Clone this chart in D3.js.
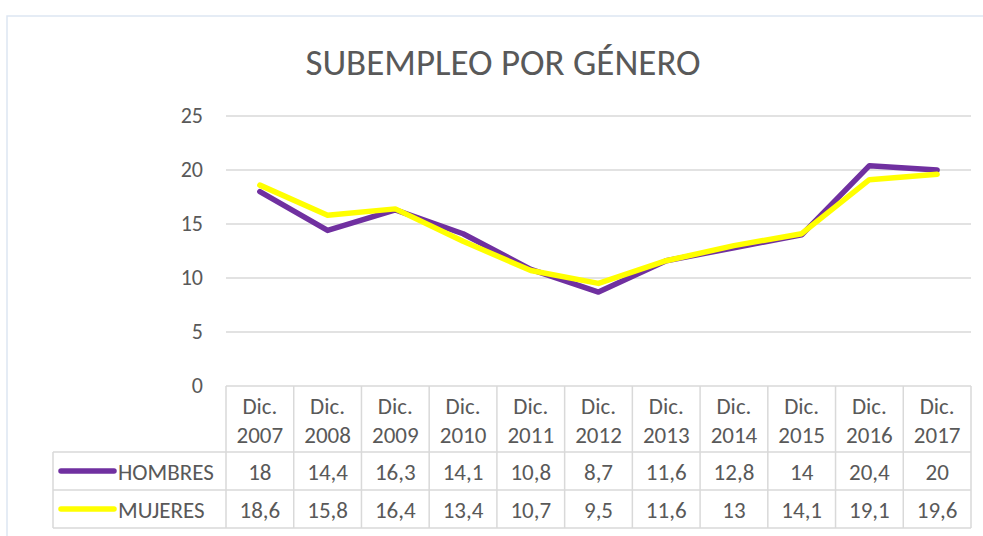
<!DOCTYPE html>
<html>
<head>
<meta charset="utf-8">
<script src="https://cdn.jsdelivr.net/npm/d3@7"></script>
<style>
  body { margin: 0; background: #fff; }
  text { font-family: Carlito, Calibri, 'Open Sans', sans-serif; fill: #595959; }
</style>
</head>
<body>
<svg id="chart" width="983" height="536"></svg>
<script>
var years = ['2007', '2008', '2009', '2010', '2011', '2012', '2013', '2014', '2015', '2016', '2017'];
var hombres = [18, 14.4, 16.3, 14.1, 10.8, 8.7, 11.6, 12.8, 14, 20.4, 20];
var mujeres = [18.6, 15.8, 16.4, 13.4, 10.7, 9.5, 11.6, 13, 14.1, 19.1, 19.6];
var yTicks = [0, 5, 10, 15, 20, 25];

var series = [
  {name: 'HOMBRES', values: hombres, color: '#7030a0'},
  {name: 'MUJERES', values: mujeres, color: '#ffff00'}
];

var svg = d3.select('#chart');
var grid = '#d9d9d9';

var plot = {left: 226, right: 971, top: 116, bottom: 386};
var rowH = 38;
var headH = 66;
var legendLeft = 53;

var x = d3.scaleBand()
  .domain(years)
  .range([plot.left, plot.right]);

var y = d3.scaleLinear()
  .domain([0, 25])
  .range([plot.bottom, plot.top]);

function cx(d) {
  return x(d) + x.bandwidth() / 2;
}

function fmt(v) {
  return String(v).replace('.', ',');
}

// outer chart border
svg.append('rect')
  .attr('x', 7)
  .attr('y', 16)
  .attr('width', 1000)
  .attr('height', 600)
  .attr('fill', 'none')
  .attr('stroke', '#dde6f2')
  .attr('stroke-width', 1.5);

svg.append('text')
  .attr('x', 503)
  .attr('y', 75)
  .attr('text-anchor', 'middle')
  .style('font-size', '37px')
  .style('font-weight', 300)
  .text('SUBEMPLEO POR GÉNERO');

// gridlines + y labels
svg.append('g')
  .selectAll('line')
  .data(yTicks.filter(function(t) { return t > 0; }))
  .enter()
  .append('line')
    .attr('x1', plot.left)
    .attr('x2', plot.right)
    .attr('y1', function(d) { return y(d); })
    .attr('y2', function(d) { return y(d); })
    .attr('stroke', grid)
    .attr('stroke-width', 1.5);

svg.append('g')
  .selectAll('text')
  .data(yTicks)
  .enter()
  .append('text')
    .attr('x', 203)
    .attr('y', function(d) { return y(d) + 7; })
    .attr('text-anchor', 'end')
    .style('font-size', '22px')
    .text(function(d) { return d; });

// data table
var tBottom = plot.bottom + headH + rowH * 2;
var table = svg.append('g')
  .attr('stroke', grid)
  .attr('stroke-width', 1.5);

table.append('line')
  .attr('x1', plot.left).attr('x2', plot.right)
  .attr('y1', plot.bottom).attr('y2', plot.bottom);

[0, 1, 2].forEach(function(i) {
  var yy = plot.bottom + headH + rowH * i;
  table.append('line')
    .attr('x1', legendLeft).attr('x2', plot.right)
    .attr('y1', yy).attr('y2', yy);
});

table.selectAll('.col')
  .data(years.concat(['end']))
  .enter()
  .append('line')
    .attr('class', 'col')
    .attr('x1', function(d, i) { return plot.left + i * x.step(); })
    .attr('x2', function(d, i) { return plot.left + i * x.step(); })
    .attr('y1', plot.bottom)
    .attr('y2', tBottom);

table.append('line')
  .attr('x1', legendLeft).attr('x2', legendLeft)
  .attr('y1', plot.bottom + headH).attr('y2', tBottom);

var head = svg.append('g')
  .selectAll('g')
  .data(years)
  .enter()
  .append('g');

head.append('text')
  .attr('x', cx)
  .attr('y', plot.bottom + 28)
  .attr('text-anchor', 'middle')
  .style('font-size', '23px')
  .text('Dic.');

head.append('text')
  .attr('x', cx)
  .attr('y', plot.bottom + 57)
  .attr('text-anchor', 'middle')
  .style('font-size', '23px')
  .text(function(d) { return d; });

series.forEach(function(s, si) {
  var rowY = plot.bottom + headH + rowH * si + rowH / 2;

  svg.append('line')
    .attr('x1', 61).attr('x2', 114)
    .attr('y1', rowY).attr('y2', rowY)
    .attr('stroke', s.color)
    .attr('stroke-width', 5.5)
    .attr('stroke-linecap', 'round');

  svg.append('text')
    .attr('x', 118)
    .attr('y', rowY + 9)
    .style('font-size', '23px')
    .text(s.name);

  svg.append('g')
    .selectAll('text')
    .data(s.values)
    .enter()
    .append('text')
      .attr('x', function(d, i) { return cx(years[i]); })
      .attr('y', rowY + 9)
      .attr('text-anchor', 'middle')
      .style('font-size', '23px')
      .text(fmt);
});

// lines
var line = d3.line()
  .x(function(d, i) { return cx(years[i]); })
  .y(function(d) { return y(d); });

svg.append('g')
  .selectAll('path')
  .data(series)
  .enter()
  .append('path')
    .attr('d', function(s) { return line(s.values); })
    .attr('fill', 'none')
    .attr('stroke', function(s) { return s.color; })
    .attr('stroke-width', 5.5)
    .attr('stroke-linejoin', 'round')
    .attr('stroke-linecap', 'round');
</script>
</body>
</html>
